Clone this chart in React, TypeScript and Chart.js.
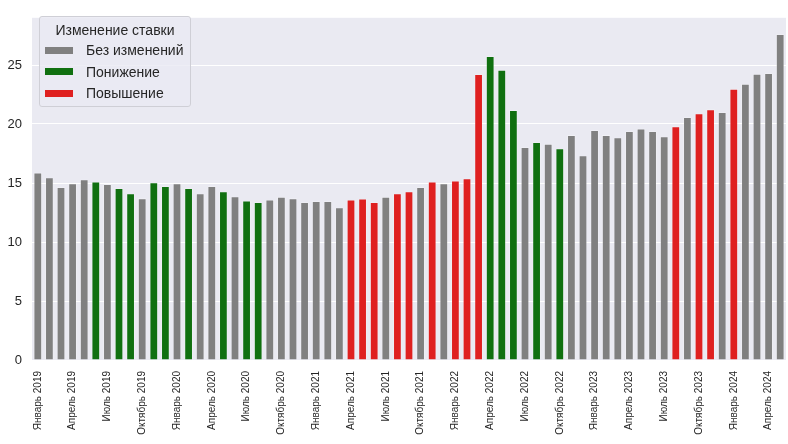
import React, { useEffect, useRef } from "react";
import { Chart, registerables } from "chart.js";

Chart.register(...registerables);

const years = [2019, 2020, 2021, 2022, 2023, 2024];
const monthNames = ["Январь", "Февраль", "Март", "Апрель", "Май", "Июнь", "Июль", "Август", "Сентябрь", "Октябрь", "Ноябрь", "Декабрь"];
const barCount = 65;
const categories: string[] = [];
for (const y of years) for (const m of monthNames) if (categories.length < barCount) categories.push(`${m} ${y}`);

const rateValues = [
  15.88, 15.47, 14.64, 14.97, 15.30, 15.11, 14.89, 14.56, 14.11, 13.70,
  15.05, 14.72, 14.97, 14.56, 14.11, 14.72, 14.28, 13.86, 13.50, 13.37,
  13.59, 13.81, 13.70, 13.37, 13.45, 13.45, 12.92, 13.59, 13.67, 13.37,
  13.81, 14.11, 14.28, 14.64, 15.11, 14.97, 15.19, 15.38, 24.22, 25.74,
  24.58, 21.18, 18.03, 18.45, 18.30, 17.93, 19.06, 17.34, 19.47, 19.06,
  18.86, 19.39, 19.61, 19.39, 18.95, 19.80, 20.57, 20.90, 21.24, 20.99,
  22.98, 23.39, 24.25, 24.30, 27.61,
];

// 0 = Без изменений, 1 = Понижение, 2 = Повышение
const rateChange = [
  0, 0, 0, 0, 0, 1, 0, 1, 1, 0,
  1, 1, 0, 1, 0, 0, 1, 0, 1, 1,
  0, 0, 0, 0, 0, 0, 0, 2, 2, 2,
  0, 2, 2, 0, 2, 0, 2, 2, 2, 1,
  1, 1, 0, 1, 0, 1, 0, 0, 0, 0,
  0, 0, 0, 0, 0, 2, 0, 2, 2, 0,
  2, 0, 0, 0, 0,
];

const legendTitle = "Изменение ставки";
const legendLabels = ["Без изменений", "Понижение", "Повышение"];
const palette = ["#808080", "#107010", "#df2020"];
const yTicks = [0, 5, 10, 15, 20, 25];

const FONT = "'Liberation Sans', Arial, sans-serif";

const bgPlugin = {
  id: "plotBg",
  beforeDraw(chart: any) {
    const { ctx, chartArea } = chart;
    ctx.save();
    ctx.fillStyle = "#eaeaf2";
    ctx.fillRect(chartArea.left, chartArea.top, chartArea.right - chartArea.left, chartArea.bottom - chartArea.top);
    ctx.restore();
  },
};

export default function App() {
  const ref = useRef<HTMLCanvasElement>(null);
  useEffect(() => {
    document.body.style.margin = "0";
    const chart = new Chart(ref.current!, {
      type: "bar",
      data: {
        labels: categories,
        datasets: [
          {
            data: rateValues,
            backgroundColor: rateChange.map((c) => palette[c]),
            borderColor: "rgba(255,255,255,0.35)",
            borderWidth: 0.8,
            barPercentage: 0.72,
            categoryPercentage: 1,
          },
        ],
      },
      options: {
        animation: false,
        responsive: false,
        maintainAspectRatio: false,
        layout: { padding: { left: 0, top: 10, right: 2, bottom: 0 } },
        plugins: { legend: { display: false }, tooltip: { enabled: false } },
        scales: {
          x: {
            grid: { display: false },
            border: { display: false },
            afterFit: (s: any) => {
              s.height = 84;
              s.paddingRight = 0;
              s.paddingLeft = 0;
            },
            ticks: {
              autoSkip: false,
              maxRotation: 90,
              minRotation: 90,
              color: "#262626",
              font: { family: FONT, size: 10 },
              padding: 3,
              callback: (_v: any, i: number) => (i % 3 === 0 ? categories[i] : ""),
            },
          },
          y: {
            min: 0,
            max: 29,
            afterFit: (s: any) => { s.width = 32; },
            afterBuildTicks: (s: any) => { s.ticks = yTicks.map((v) => ({ value: v })); },
            grid: { color: "#ffffff", lineWidth: 1, drawTicks: false },
            border: { display: false },
            ticks: {
              color: "#262626",
              font: { family: FONT, size: 13 },
              padding: 10,
            },
          },
        },
      },
      plugins: [bgPlugin],
    });
    return () => chart.destroy();
  }, []);

  return (
    <div style={{ position: "relative", width: 788, height: 444, fontFamily: FONT }}>
      <canvas ref={ref} width={788} height={444} style={{ display: "block" }} />
      <div
        style={{
          position: "absolute",
          left: 39,
          top: 16,
          width: 152,
          height: 91,
          boxSizing: "border-box",
          background: "rgba(234,234,242,0.8)",
          border: "1px solid #cfcfd6",
          borderRadius: 3,
          color: "#262626",
          fontSize: 14,
        }}
      >
        <div style={{ position: "absolute", left: 0, right: 0, top: 5, textAlign: "center", lineHeight: "16px" }}>{legendTitle}</div>
        {legendLabels.map((lab, i) => (
          <div key={lab} style={{ position: "absolute", left: 5, top: 25 + i * 21.5, height: 16, display: "flex", alignItems: "center" }}>
            <span style={{ display: "inline-block", width: 28, height: 7, background: palette[i], marginRight: 13 }} />
            <span style={{ lineHeight: "16px" }}>{lab}</span>
          </div>
        ))}
      </div>
    </div>
  );
}
